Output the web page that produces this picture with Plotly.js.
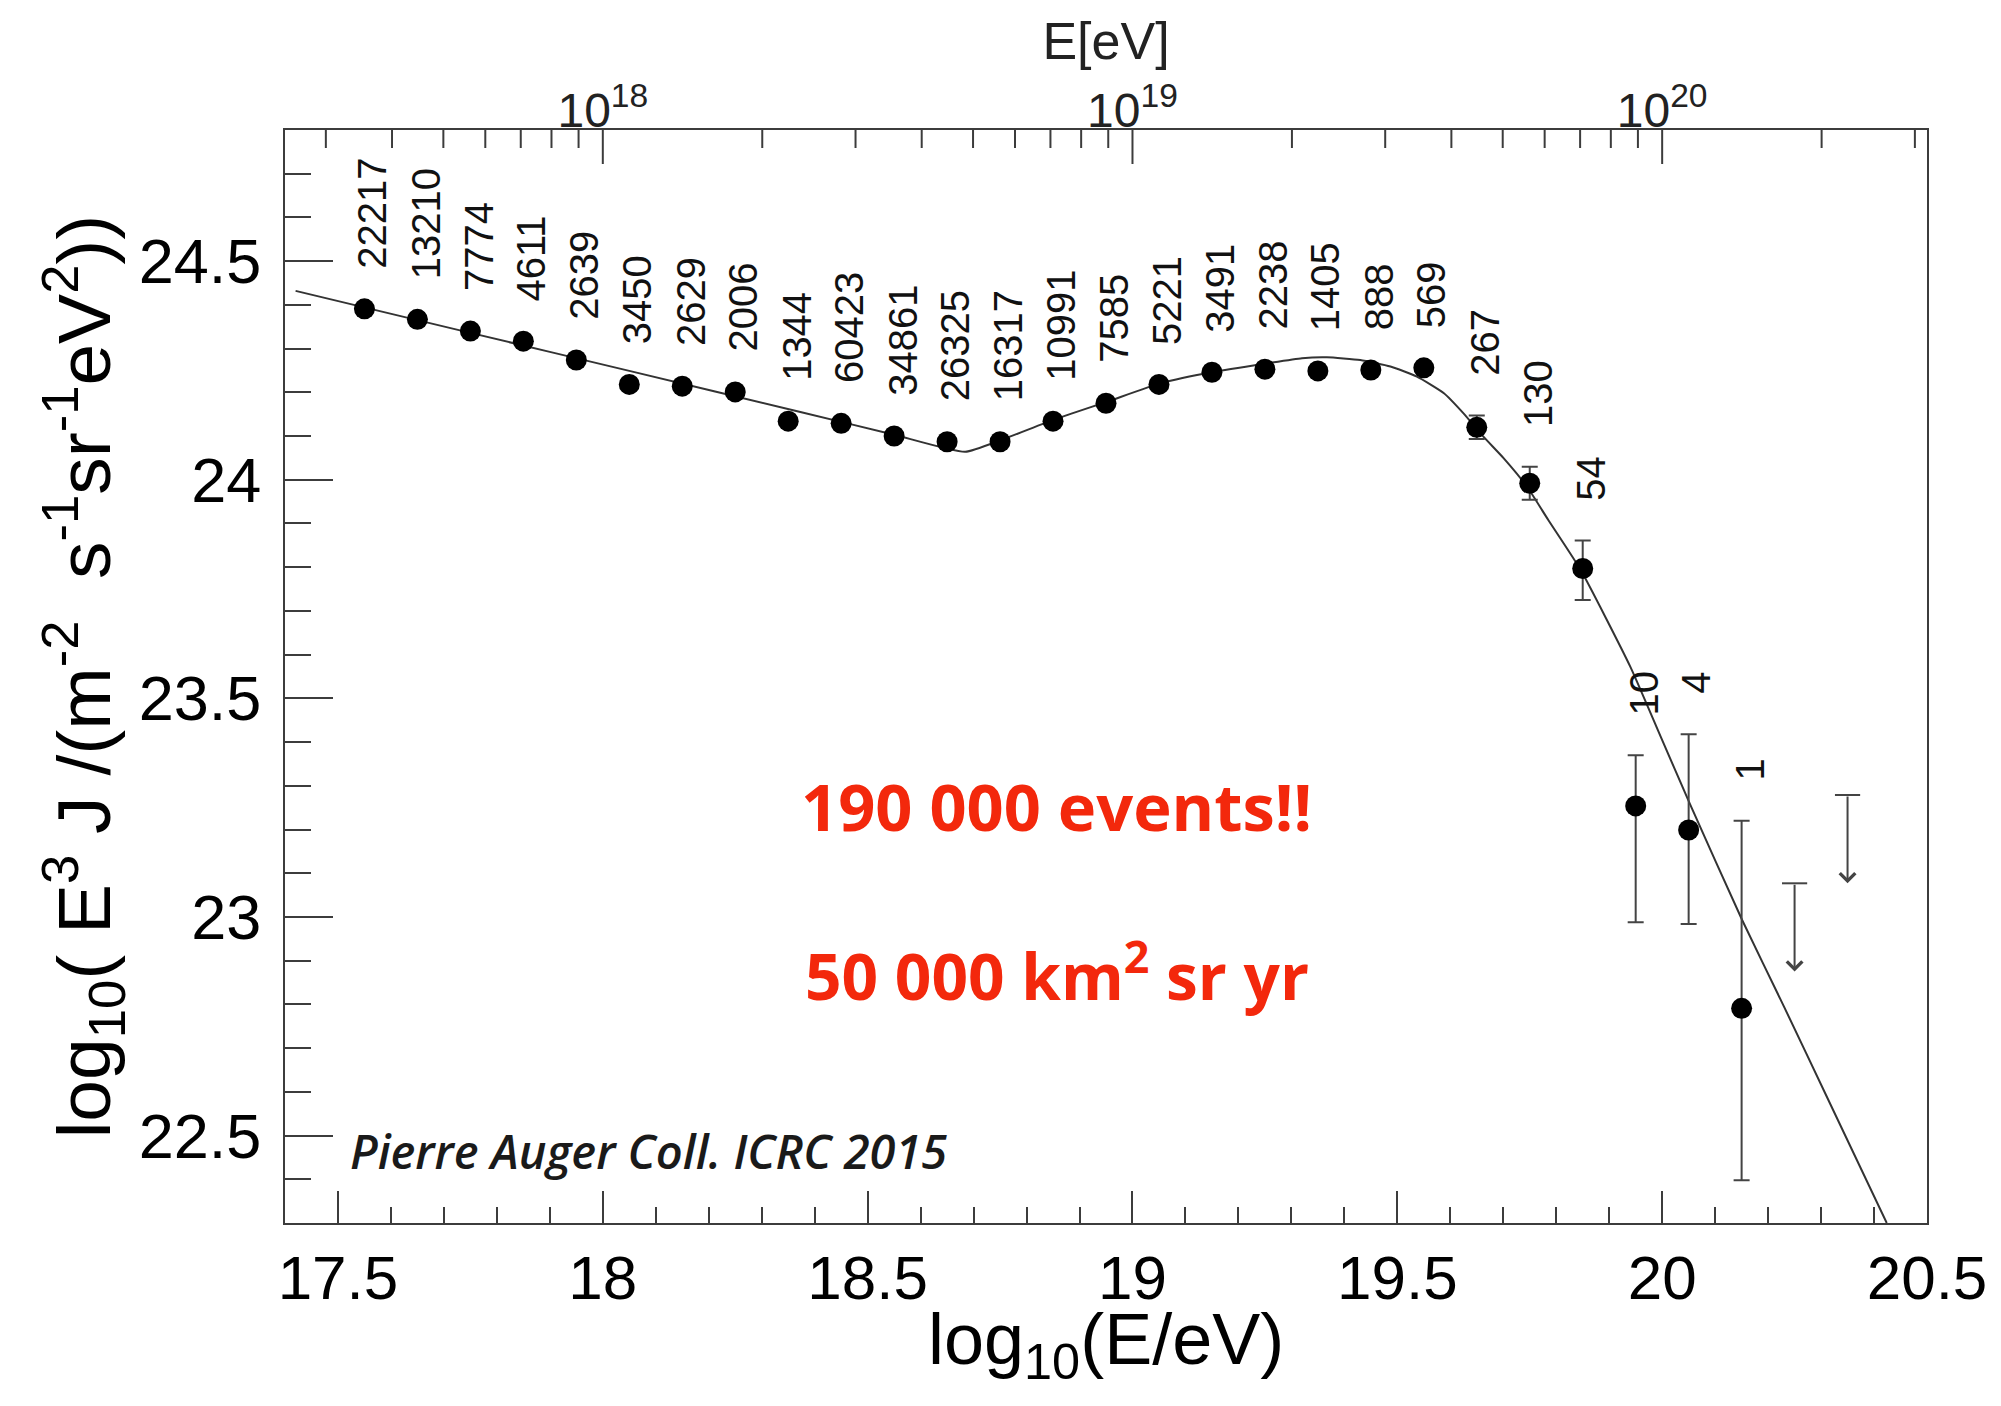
<!DOCTYPE html>
<html>
<head>
<meta charset="utf-8">
<script src="https://cdn.plot.ly/plotly-3.0.1.min.js"></script>
<style>
  html, body { margin: 0; padding: 0; background: #fff; }
  #chart { width: 2001px; height: 1406px; }
</style>
</head>
<body>
<div id="chart"></div>
<script>
// Combined surface-detector energy spectrum, log10(E^3 J) per bin centre
const logE = [17.55, 17.65, 17.75, 17.85, 17.95, 18.05, 18.15, 18.25, 18.35,
              18.45, 18.55, 18.65, 18.75, 18.85, 18.95, 19.05, 19.15, 19.25,
              19.35, 19.45, 19.55, 19.65, 19.75, 19.85, 19.95, 20.05, 20.15];
const fluxLog = [24.391, 24.367, 24.340, 24.317, 24.274, 24.218, 24.214, 24.201, 24.134,
                 24.129, 24.100, 24.087, 24.087, 24.134, 24.175, 24.218, 24.246, 24.253,
                 24.249, 24.251, 24.256, 24.120, 23.992, 23.797, 23.254, 23.199, 22.791];
const errUp   = [0, 0, 0, 0, 0, 0, 0, 0, 0,
                 0, 0, 0, 0, 0, 0, 0, 0, 0,
                 0, 0, 0, 0.027, 0.038, 0.064, 0.116, 0.219, 0.429];
const errDown = [0, 0, 0, 0, 0, 0, 0, 0, 0,
                 0, 0, 0, 0, 0, 0, 0, 0, 0,
                 0, 0, 0, 0.027, 0.038, 0.072, 0.266, 0.215, 0.393];
const eventCounts = ['22217', '13210', '7774', '4611', '2639', '3450', '2629', '2006', '1344',
                     '60423', '34861', '26325', '16317', '10991', '7585', '5221', '3491', '2238',
                     '1405', '888', '569', '267', '130', '54', '10', '4', '1'];

// Upper limits in the two empty bins
const limitLogE = [20.25, 20.35];
const limitTop  = [23.077, 23.279];
const limitTip  = [22.875, 23.077];

// Fitted spectrum (broken power law with suppression)
const fitLogE = [17.42, 17.75, 18.05, 18.373, 18.55, 18.684, 18.752, 18.853, 18.953,
                 19.054, 19.154, 19.253, 19.32, 19.367, 19.43, 19.487, 19.537, 19.588,
                 19.625, 19.663, 19.701, 19.745, 19.785, 19.846, 19.94, 19.997, 20.053,
                 20.151, 20.23, 20.312, 20.424];
const fitFlux = [24.432, 24.336, 24.249, 24.155, 24.103, 24.064, 24.091, 24.138, 24.179,
                 24.221, 24.247, 24.266, 24.278, 24.280, 24.274, 24.259, 24.236, 24.198,
                 24.152, 24.098, 24.049, 23.984, 23.908, 23.794, 23.572, 23.413, 23.257,
                 22.993, 22.795, 22.586, 22.300];

// Energy axis along the top (values in eV)
const decadeE = [1e18, 1e19, 1e20];
const decadeLabels = ['10<sup>18</sup>', '10<sup>19</sup>', '10<sup>20</sup>'];
const minorE = [3e17, 4e17, 5e17, 6e17, 7e17, 8e17, 9e17,
                2e18, 3e18, 4e18, 5e18, 6e18, 7e18, 8e18, 9e18,
                2e19, 3e19, 4e19, 5e19, 6e19, 7e19, 8e19, 9e19,
                2e20, 3e20];

const AXIS = '#3c3c3c';
const FONT = 'Liberation Sans, Arial, Helvetica, sans-serif';
const X_RANGE = [17.4, 20.5];
const Y_RANGE = [22.3, 24.8];

const traces = [
  {
    x: fitLogE, y: fitFlux, type: 'scatter', mode: 'lines',
    line: { color: '#333', width: 2, shape: 'spline', smoothing: 0.5 }, hoverinfo: 'skip'
  },
  {
    x: logE, y: fluxLog, type: 'scatter', mode: 'markers',
    marker: { size: 21, color: '#000' },
    error_y: { type: 'data', symmetric: false, array: errUp, arrayminus: errDown,
               color: '#444', thickness: 2, width: 8 }
  },
  {
    // caps of the upper limits, on the labelled energy axis frame
    x: limitLogE, y: limitTop, xaxis: 'x2', yaxis: 'y2',
    type: 'scatter', mode: 'markers',
    marker: { symbol: 'line-ew', size: 18, color: '#444', line: { width: 2, color: '#444' } }
  }
];

const annotations = [];
logE.forEach((xv, i) => {
  annotations.push({
    x: xv, y: fluxLog[i] + errUp[i], xref: 'x', yref: 'y',
    text: eventCounts[i], textangle: -90, showarrow: false,
    xanchor: 'center', yanchor: 'bottom', xshift: 8, yshift: 38,
    font: { family: FONT, size: 40, color: '#111' }
  });
});
limitLogE.forEach((xv, i) => {
  annotations.push({
    x: xv, y: limitTip[i], ax: xv, ay: limitTop[i],
    xref: 'x', yref: 'y', axref: 'x', ayref: 'y',
    text: '', showarrow: true, arrowhead: 4, arrowsize: 1.5,
    arrowwidth: 2, arrowcolor: '#444'
  });
});
annotations.push(
  {
    // x-axis title
    xref: 'paper', yref: 'paper', x: 0.5, y: -0.111,
    xanchor: 'center', yanchor: 'middle', showarrow: false,
    text: 'log<sub>10</sub>(E/eV)',
    font: { family: FONT, size: 72, color: '#000' }
  },
  {
    xref: 'paper', yref: 'paper', x: 0.470, y: 0.3815,
    xanchor: 'center', yanchor: 'middle', showarrow: false,
    text: '190 000 events!!',
    font: { family: 'Open Sans, Noto Sans, sans-serif', size: 65, weight: 'bold', color: '#f3280c' }
  },
  {
    xref: 'paper', yref: 'paper', x: 0.470, y: 0.230,
    xanchor: 'center', yanchor: 'middle', showarrow: false,
    text: '50 000 km<sup>2</sup> sr yr',
    font: { family: 'Open Sans, Noto Sans, sans-serif', size: 64, weight: 'bold', color: '#f3280c' }
  },
  {
    xref: 'paper', yref: 'paper', x: 0.0384, y: 0.0659,
    xanchor: 'left', yanchor: 'middle', showarrow: false,
    text: 'Pierre Auger Coll. ICRC 2015',
    font: { family: 'Open Sans, Noto Sans, sans-serif', size: 47, weight: 600, style: 'italic', color: '#1a1a1a' }
  }
);

// energy tick marks hanging from the top frame (decades long, 2..9 short)
function topTick(eV, len) {
  return {
    type: 'line', xref: 'x', yref: 'paper', ysizemode: 'pixel', yanchor: 1,
    x0: Math.log10(eV), x1: Math.log10(eV), y0: 0, y1: -len,
    line: { color: AXIS, width: 2 }, layer: 'above'
  };
}
const shapes = decadeE.map(e => topTick(e, 34)).concat(minorE.map(e => topTick(e, 18)));

const layout = {
  width: 2001, height: 1406,
  margin: { l: 285, r: 74, t: 130, b: 183, pad: 0 },
  paper_bgcolor: '#fff', plot_bgcolor: 'rgba(0,0,0,0)',
  showlegend: false,
  font: { family: FONT, color: '#000' },
  xaxis: {
    range: X_RANGE, tick0: 17.5, dtick: 0.5,
    ticks: 'inside', ticklen: 32, tickwidth: 2, tickcolor: AXIS,
    showline: true, linecolor: AXIS, linewidth: 2, mirror: true,
    showgrid: false, zeroline: false,
    tickfont: { family: FONT, size: 62, color: '#000' },
    minor: { dtick: 0.1, ticks: 'inside', ticklen: 16, tickwidth: 2, tickcolor: AXIS, showgrid: false }
  },
  yaxis: {
    range: Y_RANGE, tick0: 22.5, dtick: 0.5,
    ticks: 'inside', ticklen: 48, tickwidth: 2, tickcolor: AXIS,
    showline: true, linecolor: AXIS, linewidth: 2, mirror: true,
    showgrid: false, zeroline: false,
    tickfont: { family: FONT, size: 63, color: '#000' },
    ticklabelstandoff: 9,
    minor: { dtick: 0.1, ticks: 'inside', ticklen: 26, tickwidth: 2, tickcolor: AXIS, showgrid: false },
    title: {
      text: 'log<sub>10</sub>( E<sup>3</sup> J /(m<sup>-2</sup>  s<sup>-1</sup>sr<sup>-1</sup>eV<sup>2</sup>))',
      font: { family: FONT, size: 75, color: '#000' }, standoff: 4
    }
  },
  // energy axis on top (positions in log10 E): labels and title
  xaxis2: {
    side: 'top', anchor: 'y2', domain: [0, 1],
    range: X_RANGE,
    tickmode: 'array', tickvals: decadeE.map(Math.log10), ticktext: decadeLabels,
    ticks: '', showline: true, linecolor: AXIS, linewidth: 2,
    showgrid: false, zeroline: false,
    tickfont: { family: FONT, size: 48, color: '#222' },
    ticklabelstandoff: -18,
    title: { text: 'E[eV]', font: { family: FONT, size: 52, color: '#222' }, standoff: 0 }
  },
  yaxis2: {
    anchor: 'x2', domain: [0, 1], range: Y_RANGE,
    visible: false, showgrid: false, zeroline: false
  },
  shapes: shapes,
  annotations: annotations
};

Plotly.newPlot('chart', traces, layout, { displayModeBar: false, staticPlot: true });
</script>
</body>
</html>
